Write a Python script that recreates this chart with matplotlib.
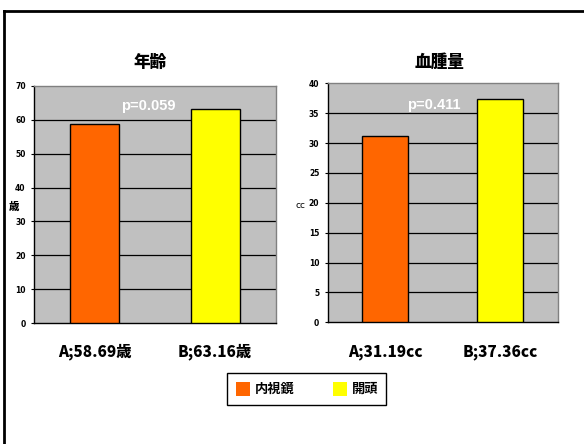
import matplotlib
matplotlib.use("Agg")
import matplotlib.pyplot as plt
from matplotlib.patches import Rectangle
from matplotlib.lines import Line2D
from matplotlib import font_manager

plt.rcParams['font.family'] = ['Noto Sans CJK JP', 'DejaVu Sans']

# Data
groups = ["内視鏡", "開頭"]
colors = ["#FF6600", "#FFFF00"]

age_values = [58.69, 63.16]
age_labels = ["A;58.69歳", "B;63.16歳"]
age_ticks = [0, 10, 20, 30, 40, 50, 60, 70]
age_p = "p=0.059"

vol_values = [31.19, 37.36]
vol_labels = ["A;31.19cc", "B;37.36cc"]
vol_ticks = [0, 5, 10, 15, 20, 25, 30, 35, 40]
vol_p = "p=0.411"

W, H = 584, 444
fig = plt.figure(figsize=(W / 100, H / 100), dpi=100)
fig.patch.set_facecolor("white")


def fx(x):
    return x / W


def fy(y):
    return 1 - y / H


# frame lines along top and left edges
fig.add_artist(Line2D([fx(4), fx(584)], [fy(11), fy(11)], color="black", lw=2))
fig.add_artist(Line2D([fx(4), fx(4)], [fy(11), fy(444)], color="black", lw=2))

# condensed face for the small tick numbers, if one is available
installed = {f.name for f in font_manager.fontManager.ttflist}
narrow = [n for n in ['Liberation Sans Narrow', 'DejaVu Sans Condensed'] if n in installed] + ['DejaVu Sans']


def panel(rect, values, ticks, title, title_xy, p_text, p_xy, ylabel, ylabel_xy, ylabel_style,
          xlabels, xlabel_y):
    ax = fig.add_axes(rect)
    ax.set_facecolor("#C0C0C0")
    x = [0.5, 1.5]
    ax.bar(x, values, width=0.4, color=colors, edgecolor="black", linewidth=1, zorder=3)
    ax.set_xlim(0, 2)
    ax.set_ylim(ticks[0], ticks[-1])
    ax.set_yticks(ticks)
    ax.set_yticklabels([str(t) for t in ticks], fontsize=5.5, fontweight="bold", family=narrow)
    ax.set_xticks([])
    for t in ticks[1:-1]:
        ax.axhline(t, color="black", lw=0.9, zorder=1)
    ax.tick_params(axis="y", length=2.5, width=0.8, pad=3.5, direction="out")
    for s in ["top", "right"]:
        ax.spines[s].set_color("#808080")
        ax.spines[s].set_linewidth(1)
    for s in ["left", "bottom"]:
        ax.spines[s].set_color("black")
        ax.spines[s].set_linewidth(1)
    fig.text(fx(title_xy[0]), fy(title_xy[1]), title, ha="center", va="center",
             fontsize=12, fontweight="black")
    fig.text(fx(p_xy[0]), fy(p_xy[1]), p_text, ha="center", va="center",
             fontsize=10.5, fontweight="bold", color="white", family=['Liberation Sans', 'DejaVu Sans'])
    fig.text(fx(ylabel_xy[0]), fy(ylabel_xy[1]), ylabel, ha="center", va="center",
             **ylabel_style)
    for cx, lab in zip(xlabel_y[0], xlabels):
        fig.text(fx(cx), fy(xlabel_y[1]), lab, ha="center", va="center",
                 fontsize=11, fontweight="black")
    return ax


panel([fx(34), fy(323.3), (276 - 34) / W, (323.3 - 85.7) / H],
      age_values, age_ticks, "年齢", (150, 62), age_p, (148, 106),
      "歳", (14, 207), dict(fontsize=7.5, fontweight="black"),
      age_labels, ([95, 215], 352))

panel([fx(327.7), fy(322.3), (557.7 - 327.7) / W, (322.3 - 83.3) / H],
      vol_values, vol_ticks, "血腫量", (440, 62), vol_p, (434, 105),
      "cc", (301, 206), dict(fontsize=6.5, fontweight="normal", family=['DejaVu Sans']),
      vol_labels, ([385, 500], 352))

# legend box
fig.add_artist(Rectangle((fx(226.7), fy(405)), (386 - 226.7) / W, (405 - 373) / H,
                         transform=fig.transFigure, facecolor="white", edgecolor="black", lw=1))
fig.add_artist(Rectangle((fx(236), fy(396)), 14 / W, 14 / H, transform=fig.transFigure,
                         facecolor=colors[0], edgecolor="none"))
fig.add_artist(Rectangle((fx(333), fy(396)), 14 / W, 14 / H, transform=fig.transFigure,
                         facecolor=colors[1], edgecolor="none"))
fig.text(fx(255), fy(389), groups[0], ha="left", va="center", fontsize=9.5, fontweight="bold")
fig.text(fx(352), fy(389), groups[1], ha="left", va="center", fontsize=9.5, fontweight="bold")

fig.savefig("out.png", dpi=100)
